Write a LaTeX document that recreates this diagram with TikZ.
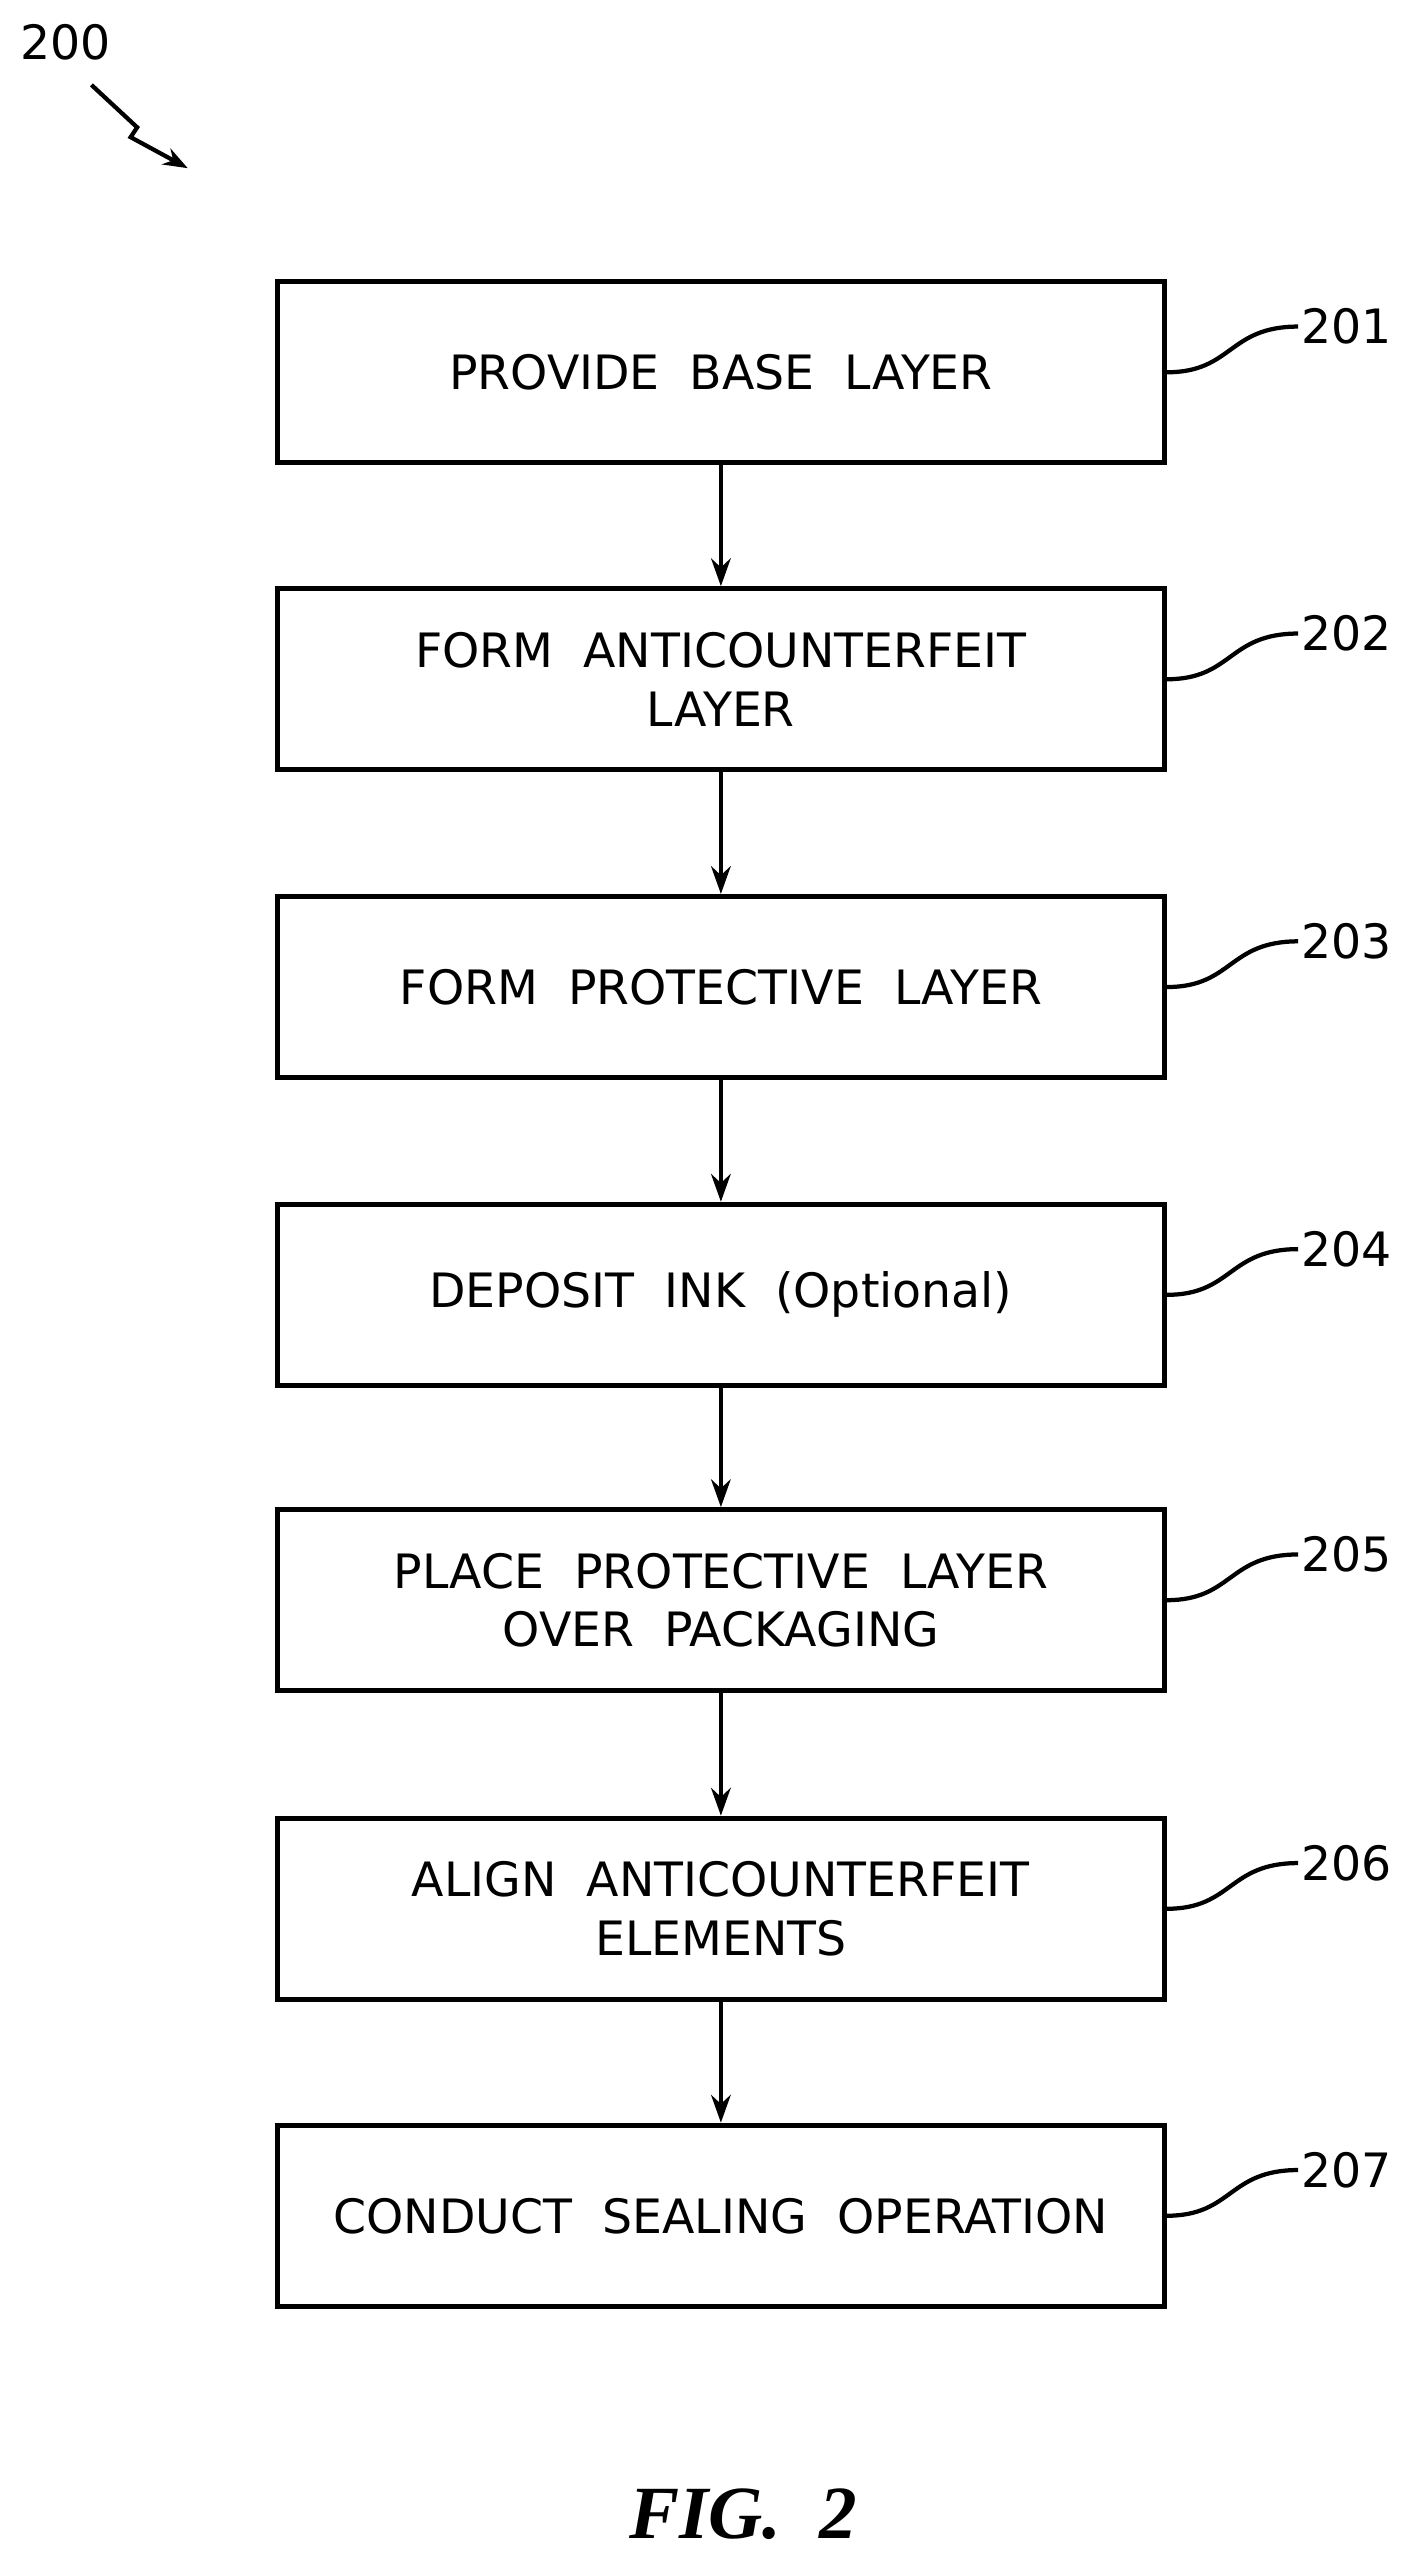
\documentclass[tikz,border=0pt]{standalone}
\usepackage{fontspec}
\setmainfont{DejaVu Sans}
\newfontfamily\figfont{Liberation Serif}
\usetikzlibrary{arrows.meta}
\begin{document}
\begin{tikzpicture}[x=1pt,y=-1pt,
  stepbox/.style={draw,line width=3pt,minimum width=543pt,minimum height=111pt,align=center,font=\fontsize{29}{36}\selectfont,inner sep=0pt},
  lbl/.style={anchor=west,font=\fontsize{29}{34}\selectfont,inner sep=0pt},
  flow/.style={line width=2.6pt,-{Stealth[length=17pt,width=12pt]}},
  lead/.style={line width=2.6pt}]
\useasboundingbox (0,0) rectangle (864,1566);
\node[stepbox] (s1) at (441.5,228) {PROVIDE\ \ BASE\ \ LAYER};
\node[stepbox] (s2) at (441.5,416) {FORM\ \ ANTICOUNTERFEIT\\LAYER};
\node[stepbox] (s3) at (441.5,604.5) {FORM\ \ PROTECTIVE\ \ LAYER};
\node[stepbox] (s4) at (441.5,793) {DEPOSIT\ \ INK\ \ (Optional)};
\node[stepbox] (s5) at (441.5,980) {PLACE\ \ PROTECTIVE\ \ LAYER\\OVER\ \ PACKAGING};
\node[stepbox] (s6) at (441.5,1169) {ALIGN\ \ ANTICOUNTERFEIT\\ELEMENTS};
\node[stepbox] (s7) at (441.5,1357) {CONDUCT\ \ SEALING\ \ OPERATION};
\foreach \a/\b in {s1/s2,s2/s3,s3/s4,s4/s5,s5/s6,s6/s7} \draw[flow] (\a) -- (\b);
\foreach \s/\n/\y in {s1/201/228,s2/202/416,s3/203/604.5,s4/204/793,s5/205/980,s6/206/1169,s7/207/1357}{
  \coordinate (c\n) at (795,\y-28);
  \node[lbl] (l\n) at (797,\y-28) {\n};
  \draw[lead] (\s.east) .. controls (755,\y) and (752,\y-28) .. (c\n);
}
\node[font=\fontsize{29}{34}\selectfont,inner sep=0pt] (n200) at (40,26) {200};
\coordinate (z1) at (56,52);
\coordinate (z2) at (84,78);
\coordinate (z3) at (80,84);
\coordinate (z4) at (115,103);
\draw[line width=2.6pt,-{Stealth[length=15pt,width=11pt]}] (z1) -- (z2) -- (z3) -- (z4);
\node[font=\figfont\bfseries\itshape\fontsize{46}{52}\selectfont,inner sep=0pt] (fig) at (455,1540) {FIG.\ \ 2};
\end{tikzpicture}
\end{document}
